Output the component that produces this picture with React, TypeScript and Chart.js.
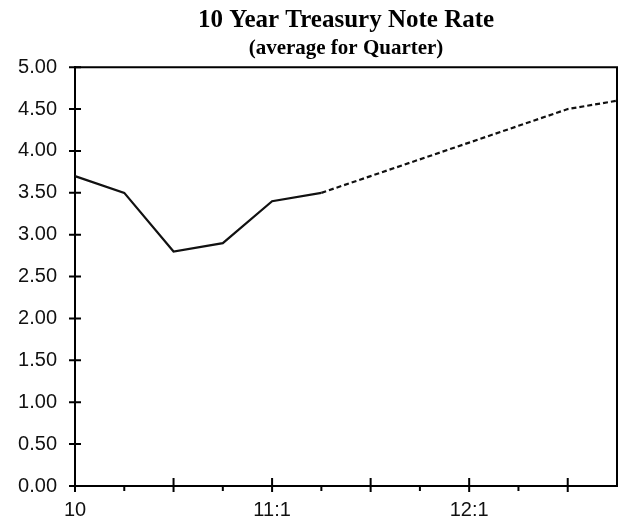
import { useEffect, useRef } from 'react';
import { Chart, registerables } from 'chart.js';

Chart.register(...registerables);

const quarters = ['10:1', '10:2', '10:3', '10:4', '11:1', '11:2', '11:3', '11:4', '12:1', '12:2', '12:3', '12:4'];
const xTickLabels = ['10', '', '', '', '11:1', '', '', '', '12:1', '', '', ''];
const rates = [3.7, 3.5, 2.8, 2.9, 3.4, 3.5, 3.7, 3.9, 4.1, 4.3, 4.5, 4.6];
const lastActualIndex = 5;
const yMin = 0;
const yMax = 5;
const yStep = 0.5;
const majorTickIndices = [0, 2, 4, 6, 8, 10];

const titleText = '10 Year Treasury Note Rate';
const subtitleText = '(average for Quarter)';

const framePlugin = {
  id: 'frameTicks',
  afterDraw(chart: any) {
    const { ctx, chartArea, scales } = chart;
    const { left, right, top, bottom } = chartArea;
    const x = scales.x;
    const y = scales.y;
    ctx.save();
    ctx.strokeStyle = '#000';
    ctx.lineWidth = 2;
    ctx.beginPath();
    ctx.moveTo(left, top);
    ctx.lineTo(right, top);
    ctx.lineTo(right, bottom);
    ctx.stroke();

    ctx.beginPath();
    y.ticks.forEach((t: any) => {
      const py = y.getPixelForValue(t.value);
      ctx.moveTo(left - 6, py);
      ctx.lineTo(left + 6, py);
    });
    quarters.forEach((_q, i) => {
      const px = x.getPixelForValue(i);
      if (majorTickIndices.includes(i)) {
        ctx.moveTo(px, bottom - 8);
        ctx.lineTo(px, bottom + 6);
      } else if (i < quarters.length - 1) {
        ctx.moveTo(px, bottom);
        ctx.lineTo(px, bottom + 5);
      }
    });
    ctx.stroke();
    ctx.restore();
  },
};

export default function App() {
  const canvasRef = useRef<HTMLCanvasElement | null>(null);

  useEffect(() => {
    if (!canvasRef.current) return;
    const chart = new Chart(canvasRef.current, {
      type: 'line',
      data: {
        labels: quarters,
        datasets: [
          {
            data: rates,
            borderColor: '#111',
            borderWidth: 2.2,
            pointRadius: 0,
            tension: 0,
            fill: false,
            segment: {
              borderDash: (ctx: any) => (ctx.p0DataIndex >= lastActualIndex ? [5, 3] : undefined),
            },
          },
        ],
      },
      options: {
        responsive: false,
        animation: false,
        layout: { padding: { left: 0, right: 4, top: 0, bottom: 0 } },
        plugins: {
          legend: { display: false },
          tooltip: { enabled: false },
          title: {
            display: true,
            text: titleText,
            fullSize: false,
            color: '#000',
            font: { family: '"Liberation Serif", "Times New Roman", serif', size: 25, weight: 'bold' },
            padding: { top: 6, bottom: 0 },
          },
          subtitle: {
            display: true,
            text: subtitleText,
            fullSize: false,
            color: '#000',
            font: { family: '"Liberation Serif", "Times New Roman", serif', size: 21, weight: 'bold' },
            padding: { top: 0, bottom: 6 },
          },
        },
        scales: {
          x: {
            type: 'category',
            offset: false,
            grid: { display: false, drawTicks: false },
            border: { display: true, color: '#000', width: 2 },
            ticks: {
              autoSkip: false,
              maxRotation: 0,
              padding: 12,
              color: '#111',
              font: { family: '"Liberation Sans", Arial, sans-serif', size: 20 },
              callback: (_v: any, i: number) => xTickLabels[i],
            },
            afterFit: (scale: any) => {
              scale.height = 43;
              scale.paddingLeft = 0;
              scale.paddingRight = 0;
            },
          },
          y: {
            min: yMin,
            max: yMax,
            grid: { display: false, drawTicks: false },
            border: { display: true, color: '#000', width: 2 },
            ticks: {
              stepSize: yStep,
              padding: 18,
              color: '#111',
              font: { family: '"Liberation Sans", Arial, sans-serif', size: 20 },
              callback: (v: any) => Number(v).toFixed(2),
            },
            afterFit: (scale: any) => {
              scale.width = 75;
            },
          },
        },
      },
      plugins: [framePlugin],
    } as any);
    return () => chart.destroy();
  }, []);

  return (
    <div style={{ position: 'fixed', left: 0, top: 0, width: 621, height: 529, background: '#fff' }}>
      <canvas ref={canvasRef} width={621} height={529} style={{ display: 'block' }} />
    </div>
  );
}
